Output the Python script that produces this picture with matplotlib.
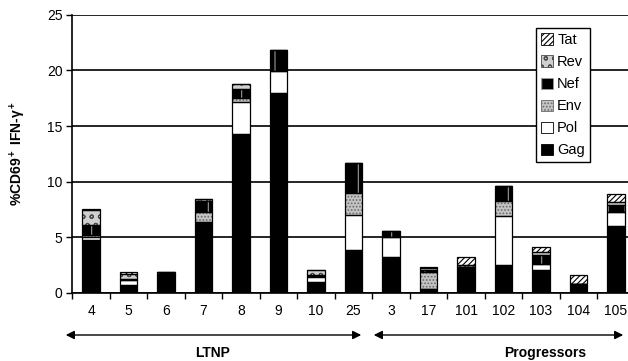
import matplotlib
matplotlib.use("Agg")
import matplotlib.pyplot as plt
import numpy as np
from matplotlib.patches import FancyArrowPatch, Patch

plt.rcParams['font.family'] = ['Liberation Sans', 'DejaVu Sans']
plt.rcParams['mathtext.fontset'] = 'custom'
plt.rcParams['mathtext.rm'] = 'Liberation Sans:bold'
plt.rcParams['mathtext.it'] = 'Liberation Sans:bold'
plt.rcParams['mathtext.bf'] = 'Liberation Sans:bold'
plt.rcParams['mathtext.default'] = 'bf'
plt.rcParams['hatch.linewidth'] = 0.8

categories = ['4', '5', '6', '7', '8', '9', '10', '25', '3', '17',
              '101', '102', '103', '104', '105']
gag = [4.8, 0.7, 1.6, 6.3, 14.25, 18.0, 0.95, 3.9, 3.25, 0.4,
       2.25, 2.5, 2.05, 0.85, 6.0]
pol = [0.2, 0.45, 0.1, 0.1, 2.9, 1.9, 0.5, 3.1, 1.8, 0.0,
       0.1, 4.4, 0.55, 0.0, 1.3]
env = [0.2, 0.0, 0.0, 0.9, 0.35, 0.0, 0.1, 1.95, 0.0, 1.5,
       0.0, 1.35, 0.0, 0.0, 0.0]
nef = [0.9, 0.15, 0.15, 1.0, 0.8, 1.95, 0.1, 2.7, 0.5, 0.2,
       0.0, 1.35, 0.8, 0.0, 0.6]
rev = [1.35, 0.45, 0.0, 0.15, 0.45, 0.0, 0.4, 0.0, 0.0, 0.15,
       0.2, 0.0, 0.25, 0.0, 0.3]
tat = [0.1, 0.1, 0.0, 0.0, 0.0, 0.0, 0.05, 0.0, 0.0, 0.05,
       0.65, 0.0, 0.5, 0.75, 0.7]
series_names = ['Gag', 'Pol', 'Env', 'Nef', 'Rev', 'Tat']
series_vals = [gag, pol, env, nef, rev, tat]
yticks = [0, 5, 10, 15, 20, 25]
groups = ['LTNP', 'Progressors']

styles = {
    'Gag': dict(facecolor='black', hatch=None, hcolor='black'),
    'Pol': dict(facecolor='white', hatch=None, hcolor='black'),
    'Env': dict(facecolor='#c4c4c4', hatch='.....', hcolor='#6a6a6a'),
    'Nef': dict(facecolor='black', hatch='|', hcolor='#9a9a9a'),
    'Rev': dict(facecolor='#cfcfcf', hatch='oo', hcolor='#4a4a4a'),
    'Tat': dict(facecolor='white', hatch='//////', hcolor='black'),
}

W, H = 628, 361
fig = plt.figure(figsize=(W / 100, H / 100), dpi=100)
ax = fig.add_axes([72.3 / W, 1 - 293 / H, 562.5 / W, 278.3 / H])

x = np.arange(len(categories))
bw = 0.46
bottom = np.zeros(len(categories))
for name, vals in zip(series_names, series_vals):
    v = np.array(vals)
    st = styles[name]
    ax.bar(x, v, bw, bottom=bottom, color=st['facecolor'], edgecolor=st['hcolor'],
           hatch=st['hatch'], linewidth=0, zorder=3)
    ax.bar(x, v, bw, bottom=bottom, fill=False, edgecolor='black',
           linewidth=0.9, zorder=4)
    bottom += v

ax.set_xlim(-0.5, len(categories) - 0.5)
ax.set_ylim(0, 25)
ax.set_yticks(yticks)
ax.set_yticklabels([str(t) for t in yticks], fontsize=10)
ax.yaxis.grid(True, color='black', linewidth=1.2, zorder=0)
ax.set_axisbelow(True)
ax.set_xticks(np.arange(len(categories) + 1) - 0.5)
ax.set_xticklabels([])
ax.set_xticks(x, minor=True)
ax.set_xticklabels(categories, minor=True, fontsize=10)
ax.tick_params(axis='x', which='major', direction='out', length=4, width=1, color='black')
ax.tick_params(axis='x', which='minor', length=0, pad=8)
ax.tick_params(axis='y', direction='out', length=4, width=1, pad=3)
for s in ['top', 'right']:
    ax.spines[s].set_visible(False)
ax.spines['left'].set_linewidth(1.2)
ax.spines['bottom'].set_linewidth(1.2)

ax.set_ylabel(r'%CD69$^+$ IFN-$\gamma^+$', fontsize=10, fontweight='bold', labelpad=14)

# legend
handles = []
for name in reversed(series_names):
    st = styles[name]
    handles.append(Patch(facecolor=st['facecolor'], edgecolor=st['hcolor'] if st['hatch'] else 'black',
                         hatch=st['hatch'], linewidth=0.6, label=name))
leg = ax.legend(handles=handles, loc='upper left', bbox_to_anchor=(536 / W, 1 - 28 / H),
                bbox_transform=fig.transFigure, fontsize=10.5, frameon=True, fancybox=False,
                edgecolor='black', framealpha=1, handlelength=0.8, handleheight=0.8,
                handletextpad=0.3, labelspacing=0.55, borderpad=0.35, borderaxespad=0)
leg.get_frame().set_linewidth(1.0)
leg.set_zorder(10)

# group arrows
def farrow(x0, x1, y):
    a = FancyArrowPatch((x0 / W, 1 - y / H), (x1 / W, 1 - y / H), transform=fig.transFigure,
                        arrowstyle='<|-|>,head_length=5,head_width=2.5', color='black',
                        linewidth=1.0, mutation_scale=1)
    fig.add_artist(a)

farrow(63, 364, 335)
farrow(371, 626, 335)
fig.text(213 / W, 1 - 353 / H, groups[0], ha='center', va='center', fontsize=10, fontweight='bold')
fig.text(545 / W, 1 - 353 / H, groups[1], ha='center', va='center', fontsize=10, fontweight='bold')

fig.savefig('out.png', dpi=100)
